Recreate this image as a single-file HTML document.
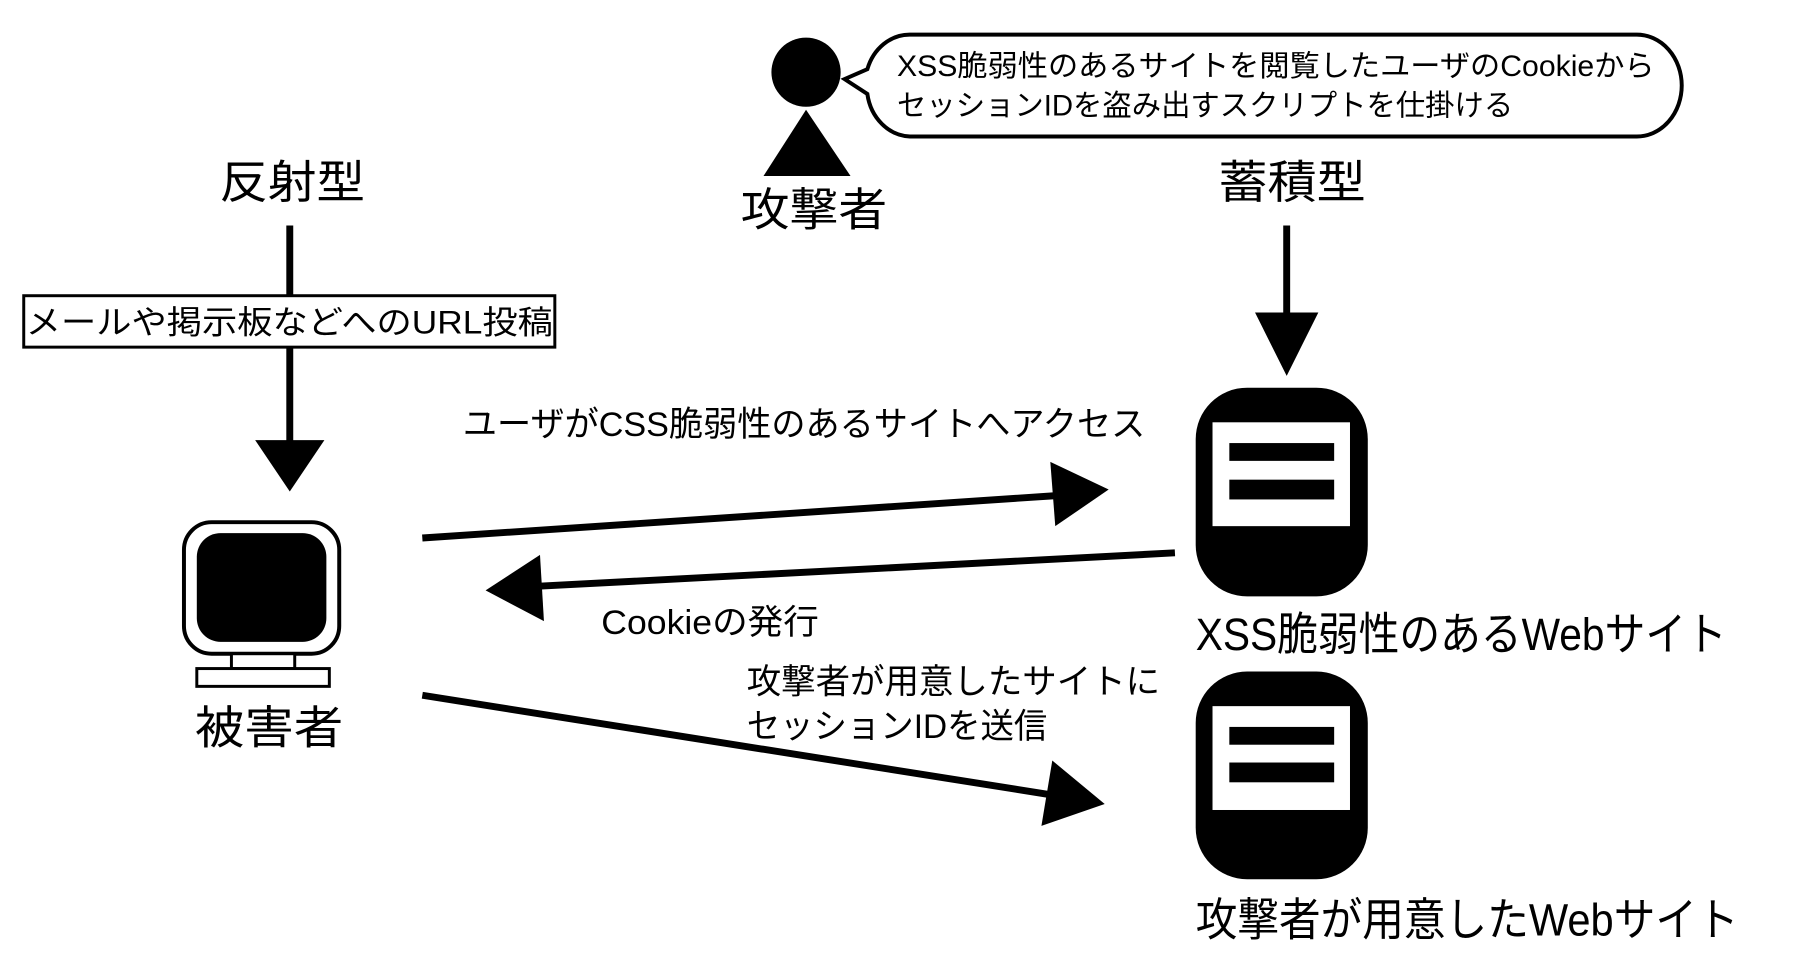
<!DOCTYPE html>
<html><head><meta charset="utf-8"><style>
html,body{margin:0;padding:0;background:#fff;}
svg{display:block;}
text{font-family:"Liberation Sans","Noto Sans CJK JP",sans-serif;fill:#000;}
</style></head><body>
<svg width="1813" height="971" viewBox="0 0 1813 971" xmlns="http://www.w3.org/2000/svg">
<g transform="scale(0.989)">
<!-- attacker -->
<circle cx="815" cy="73" r="35" fill="#000"/>
<polygon points="815,111 772,178 860,178" fill="#000"/>
<text x="749" y="228" font-size="46" textLength="148" lengthAdjust="spacingAndGlyphs">攻撃者</text>
<!-- bubble -->
<path d="M920,35 H1655 A45,51 0 0 1 1655,138 H920 A45,51 0 0 1 877,95 L854,80 L877,70 A45,51 0 0 1 920,35 Z" fill="#fff" stroke="#000" stroke-width="4"/>
<text x="907" y="77" font-size="30" textLength="766" lengthAdjust="spacingAndGlyphs">XSS脆弱性のあるサイトを閲覧したユーザのCookieから</text>
<text x="907" y="117" font-size="30" textLength="623" lengthAdjust="spacingAndGlyphs">セッションIDを盗み出すスクリプトを仕掛ける</text>
<!-- titles -->
<text x="222" y="200" font-size="46" textLength="147" lengthAdjust="spacingAndGlyphs">反射型</text>
<text x="1232" y="200" font-size="46" textLength="149" lengthAdjust="spacingAndGlyphs">蓄積型</text>
<!-- left vertical -->
<line x1="293" y1="228" x2="293" y2="450" stroke="#000" stroke-width="7"/>
<polygon points="258,445 328,445 293,497" fill="#000"/>
<rect x="24" y="299" width="537" height="52" fill="#fff" stroke="#000" stroke-width="3"/>
<text x="26" y="337" font-size="33" textLength="533" lengthAdjust="spacingAndGlyphs">メールや掲示板などへのURL投稿</text>
<!-- right vertical -->
<line x1="1301" y1="228" x2="1301" y2="320" stroke="#000" stroke-width="7"/>
<polygon points="1269,316 1333,316 1301,380" fill="#000"/>
<!-- server 1 -->
<rect x="1209" y="392" width="174" height="211" rx="52" fill="#000"/>
<rect x="1226" y="427" width="139" height="105" fill="#fff"/>
<rect x="1243" y="448" width="106" height="18" fill="#000"/>
<rect x="1243" y="485" width="106" height="20" fill="#000"/>
<text x="1209" y="657" font-size="46" textLength="537" lengthAdjust="spacingAndGlyphs">XSS脆弱性のあるWebサイト</text>
<!-- server 2 -->
<rect x="1209" y="679" width="174" height="210" rx="52" fill="#000"/>
<rect x="1226" y="714" width="139" height="105" fill="#fff"/>
<rect x="1243" y="735" width="106" height="18" fill="#000"/>
<rect x="1243" y="771" width="106" height="20" fill="#000"/>
<text x="1209" y="946" font-size="46" textLength="549" lengthAdjust="spacingAndGlyphs">攻撃者が用意したWebサイト</text>
<!-- monitor -->
<rect x="186" y="528" width="157" height="133" rx="28" fill="#fff" stroke="#000" stroke-width="4"/>
<rect x="199" y="539" width="131" height="110" rx="24" fill="#000"/>
<rect x="234" y="661" width="64" height="15" fill="#fff" stroke="#000" stroke-width="3"/>
<rect x="199" y="676" width="134" height="18" fill="#fff" stroke="#000" stroke-width="3"/>
<text x="197" y="752" font-size="46" textLength="150" lengthAdjust="spacingAndGlyphs">被害者</text>
<!-- arrows -->
<line x1="427" y1="544" x2="1070" y2="501" stroke="#000" stroke-width="7"/>
<polygon points="1062,467 1121,495 1067,532" fill="#000"/>
<text x="468" y="441" font-size="35" textLength="690" lengthAdjust="spacingAndGlyphs">ユーザがCSS脆弱性のあるサイトへアクセス</text>
<line x1="1188" y1="559" x2="540" y2="593" stroke="#000" stroke-width="7"/>
<polygon points="546,561 491,597 550,628" fill="#000"/>
<text x="608" y="641" font-size="35" textLength="220" lengthAdjust="spacingAndGlyphs">Cookieの発行</text>
<line x1="427" y1="703" x2="1065" y2="804" stroke="#000" stroke-width="7"/>
<polygon points="1064,769 1117,813 1053,835" fill="#000"/>
<text x="755" y="701" font-size="35" textLength="418" lengthAdjust="spacingAndGlyphs">攻撃者が用意したサイトに</text>
<text x="755" y="746" font-size="35" textLength="304" lengthAdjust="spacingAndGlyphs">セッションIDを送信</text>
</g>
</svg>
</body></html>
